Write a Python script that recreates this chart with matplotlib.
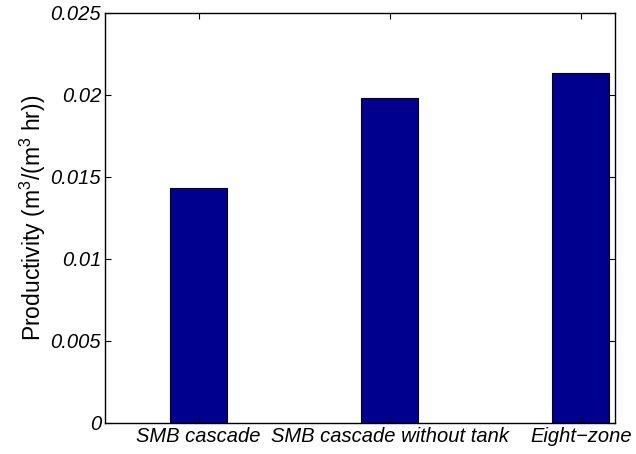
import matplotlib
matplotlib.use("Agg")
import matplotlib.pyplot as plt

plt.rcParams['font.family'] = ['Liberation Sans', 'DejaVu Sans']
plt.rcParams['mathtext.fontset'] = 'custom'
plt.rcParams['mathtext.rm'] = 'Liberation Sans'
plt.rcParams['mathtext.it'] = 'Liberation Sans:italic'

categories = ["SMB cascade", "SMB cascade without tank", "Eight\u2212zone"]
productivity = [0.0143, 0.0198, 0.02134]
ytick_vals = [0, 0.005, 0.01, 0.015, 0.02, 0.025]
ytick_labels = ["0", "0.005", "0.01", "0.015", "0.02", "0.025"]

fig = plt.figure(figsize=(6.36, 4.54), dpi=100)
ax = fig.add_axes([0.1656, 0.0683, 0.8014, 0.9031])

xpos = [1, 2, 3]
ax.bar(xpos, productivity, width=0.3, color="#00008F",
       edgecolor="black", linewidth=0.8)

ax.set_xlim(0.511, 3.179)
ax.set_ylim(0, 0.025)
ax.set_xticks(xpos)
ax.set_xticklabels(categories, fontsize=14.5, style="italic")
ax.set_yticks(ytick_vals)
ax.set_yticklabels(ytick_labels, fontsize=14.5, style="italic")
ax.tick_params(direction="in", length=4, width=0.8,
               top=True, right=True, pad=3)
for s in ax.spines.values():
    s.set_linewidth(1.0)

ax.set_ylabel("Productivity (m$^3$/(m$^3$ hr))", fontsize=16.5, labelpad=2)

fig.savefig("out.png", dpi=100)
